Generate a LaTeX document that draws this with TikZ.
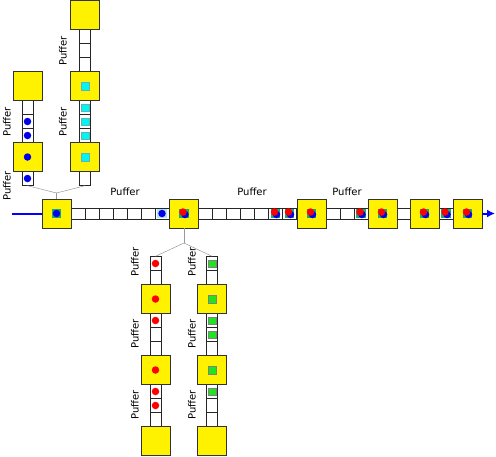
\documentclass[tikz,border=0pt]{standalone}
\usepackage{fontspec}
\setmainfont{DejaVu Sans}
\usepackage{xcolor}
\usepackage{tikz}
\usetikzlibrary{arrows.meta}

\definecolor{tokblue}{RGB}{0,0,235}
\definecolor{tokgreen}{RGB}{30,230,30}
\definecolor{tokcyan}{RGB}{0,245,245}
\definecolor{tokmix}{RGB}{30,170,110}
\definecolor{lineblue}{RGB}{0,0,255}

\begin{document}
\begin{tikzpicture}[
        x=1pt, y=-1pt,
        font=\fontsize{10}{12}\selectfont,
        >=Latex,
        station/.style={draw=black!80, fill=yellow, minimum size=29pt, inner sep=0pt},
        hcell/.style={draw=black!85, fill=white, minimum width=14pt,
            minimum height=11pt, inner sep=0pt},
        vcell/.style={draw=black!85, fill=white, minimum width=11pt,
            minimum height=14pt, inner sep=0pt},
        bdot/.style={circle, fill=tokblue, minimum size=7.5pt, inner sep=0pt},
        rdot/.style={circle, fill=red, minimum size=7.5pt, inner sep=0pt},
        cyansq/.style={draw=teal!60, fill=tokcyan, minimum size=7.5pt, inner sep=0pt},
        greensq/.style={draw=gray, fill=tokgreen, minimum size=7.5pt, inner sep=0pt},
        mixsq/.style={fill=tokmix, minimum size=9.5pt, inner sep=0pt},
        branch/.style={draw=gray!80, line width=0.5pt},
        flow/.style={draw=lineblue, line width=2pt},
        puffer/.style={rotate=90}
    ]
        \useasboundingbox (0,0) rectangle (496,456);

        % Main line: buffer cells, then stations on top.
        \foreach \i in {1,...,7} {
            \node[hcell] (ha-\i) at ({64+14*\i},213.5) {};
            \node[hcell] (hb-\i) at ({191.5+14*\i},213.5) {};
        }
        \foreach \i in {1,2,3}
            \node[hcell] (hc-\i) at ({319+14*\i},213.5) {};
        \node[hcell] (hd-1) at (403.5,213.5) {};
        \node[hcell] (he-1) at (446,213.5) {};

        \node[station] (st1) at (56.5,213.5) {};
        \node[station] (st2) at (184,213.5) {};
        \node[station] (st3) at (311.5,213.5) {};
        \node[station] (st4) at (382.5,213.5) {};
        \node[station] (st5) at (424.5,213.5) {};
        \node[station] (st6) at (467.5,213.5) {};

        % Upper branch: two columns feeding the first station.
        \foreach \i/\y in {1/107.5,2/121.5,3/135.5,4/178.5}
            \node[vcell] (ctl-\i) at (27.5,\y) {};
        \foreach \i/\y in {1/36.5,2/50.5,3/64.5,4/107.5,5/121.5,6/135.5,7/178.5}
            \node[vcell] (ctr-\i) at (85,\y) {};
        \node[station] (tl1) at (27.5,86) {};
        \node[station] (tl2) at (27.5,157) {};
        \node[station] (tr1) at (85,15) {};
        \node[station] (tr2) at (85,86) {};
        \node[station] (tr3) at (85,157) {};

        % Lower branch: two columns leaving the second station.
        \foreach \i/\y in {1/263.5,2/277.5,3/320.5,4/334.5,5/348.5,6/391.5,7/405.5,8/419.5} {
            \node[vcell] (cbl-\i) at (155.5,\y) {};
            \node[vcell] (cbr-\i) at (212,\y) {};
        }
        \foreach \i/\y in {1/299,2/370,3/441} {
            \node[station] (bl\i) at (155.5,\y) {};
            \node[station] (br\i) at (212,\y) {};
        }

        % Parts.
        \foreach \p in {ctl-2,ctl-3,tl2,ctl-4}
            \node[bdot] (tb-\p) at (\p) {};
        \foreach \p in {tr2,ctr-4,ctr-5,ctr-6,tr3}
            \node[cyansq] (tc-\p) at (\p) {};
        \foreach \p in {cbl-1,bl1,cbl-3,bl2,cbl-6,cbl-7}
            \node[rdot] (tr-\p) at (\p) {};
        \foreach \p in {cbr-1,br1,cbr-3,cbr-4,br2,cbr-6}
            \node[greensq] (tg-\p) at (\p) {};
        \node[mixsq] (mx-st1) at (st1) {};
        \node[bdot] (mb-st1) at (st1) {};
        \node[fill=cyan!30, minimum size=9.5pt, inner sep=0pt] (mx-ha) at (ha-7) {};
        \node[bdot] (mb-ha) at (ha-7) {};
        \foreach \p in {st2,hb-6,hb-7,st3,hc-3,st4,st5,he-1,st6} {
            \node[mixsq] (mx-\p) at (\p) {};
            \node[bdot] (mb-\p) at ([shift={(1,1)}]\p) {};
            \node[rdot] (mr-\p) at ([shift={(-1,-1.5)}]\p) {};
        }

        % Buffer labels.
        \node (lm1) at (125,192) {Puffer};
        \node (lm2) at (252,192) {Puffer};
        \node (lm3) at (347,192) {Puffer};
        \node[puffer] (ltl1) at (7,122) {Puffer};
        \node[puffer] (ltl2) at (7,186) {Puffer};
        \node[puffer] (ltr1) at (63,51) {Puffer};
        \node[puffer] (ltr2) at (63,122) {Puffer};
        \foreach \i/\y in {1/262,2/334,3/405} {
            \node[puffer] (lbl\i) at (135,\y) {Puffer};
            \node[puffer] (lbr\i) at (192,\y) {Puffer};
        }

        % Branch lines and the material flow.
        \coordinate (jt) at (56.5,193);
        \coordinate (jb) at (184,243);
        \draw[branch] (st1.north) -- (jt);
        \draw[branch] (jt) -- (ctl-4.south);
        \draw[branch] (jt) -- (ctr-7.south);
        \draw[branch] (st2.south) -- (jb);
        \draw[branch] (jb) -- (cbl-1.north);
        \draw[branch] (jb) -- (cbr-1.north);

        \coordinate (in) at (12,213.5);
        \coordinate (out) at (495,213.5);
        \draw[flow] (in) -- (st1.west);
        \draw[flow, -{Latex[length=8pt,width=8pt]}] (st6.east) -- (out);
    \end{tikzpicture}
\end{document}
